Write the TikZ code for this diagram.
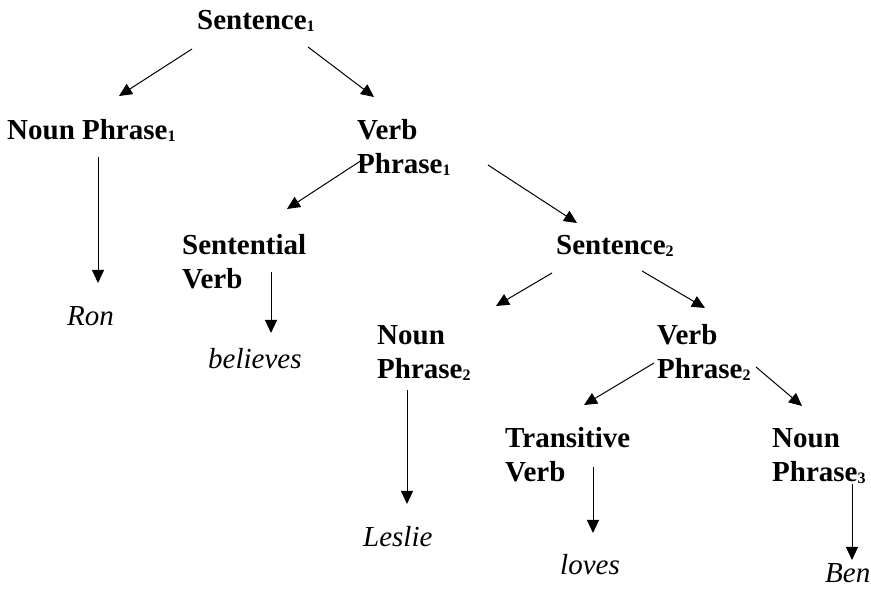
\documentclass[tikz,border=0pt]{standalone}
\usepackage{fontspec}
\setmainfont{Liberation Serif}
\usepackage{tikz}
\usetikzlibrary{arrows.meta,calc}
\newcommand{\idx}[1]{\raisebox{-2pt}{\fontsize{16}{16}\selectfont #1}}

\begin{document}
\begin{tikzpicture}[
  x=1pt, y=1pt,
  cat/.style={inner sep=0pt, anchor=base west, align=left, font=\fontsize{29}{34}\selectfont\bfseries},
  word/.style={inner sep=0pt, anchor=base west, font=\fontsize{29}{34}\selectfont\itshape},
  arrow/.style={-{Triangle[length=13pt,width=12pt]}, line width=1pt}
]
\useasboundingbox (0,0) rectangle (871,589);
% categories (base = last line)
\node[cat] (s1) at (197,559) {Sentence\idx{1}};
\node[cat] (np1) at (7,449) {Noun Phrase\idx{1}};
\node[cat] (vp1) at (357,415) {Verb\\Phrase\idx{1}};
\node[cat] (sv) at (182,300) {Sentential\\Verb};
\node[cat] (s2) at (556,334) {Sentence\idx{2}};
\node[cat] (np2) at (377,210) {Noun\\Phrase\idx{2}};
\node[cat] (vp2) at (657,210) {Verb\\Phrase\idx{2}};
\node[cat] (tv) at (505,107) {Transitive\\Verb};
\node[cat] (np3) at (772,107) {Noun\\Phrase\idx{3}};
% words
\node[word] (ron) at (67,263) {Ron};
\node[word] (bel) at (208,220) {believes};
\node[word] (les) at (363,42) {Leslie};
\node[word] (lov) at (560,14) {loves};
\node[word] (ben) at (825,6) {Ben};
% branches
\draw[arrow] ($(s1.base west)+(-5,-19)$) -- ($(np1.base west)+(112,44)$);
\draw[arrow] ($(s1.base west)+(111,-17)$) -- ($(vp1.base west)+(17,77)$);
\draw[arrow] ($(np1.base west)+(91,-17)$) -- ($(ron.base west)+(31,43)$);
\draw[arrow] ($(vp1.base west)+(5,14)$) -- ($(sv.base west)+(105,80)$);
\draw[arrow] ($(vp1.base west)+(131,9)$) -- ($(s2.base west)+(21,32)$);
\draw[arrow] ($(sv.base west)+(89,17)$) -- ($(bel.base west)+(63,36)$);
\draw[arrow] ($(s2.base west)+(-4,-18)$) -- ($(np2.base west)+(119,73)$);
\draw[arrow] ($(s2.base west)+(86,-16)$) -- ($(vp2.base west)+(48,71)$);
\draw[arrow] ($(np2.base west)+(30,-11)$) -- ($(les.base west)+(44,43)$);
\draw[arrow] ($(vp2.base west)+(-3,16)$) -- ($(tv.base west)+(79,77)$);
\draw[arrow] ($(vp2.base west)+(99,12)$) -- ($(np3.base west)+(30,76)$);
\draw[arrow] ($(tv.base west)+(88,15)$) -- ($(lov.base west)+(33,42)$);
\draw[arrow] ($(np3.base west)+(80,-2)$) -- ($(ben.base west)+(27,23)$);
\end{tikzpicture}
\end{document}
